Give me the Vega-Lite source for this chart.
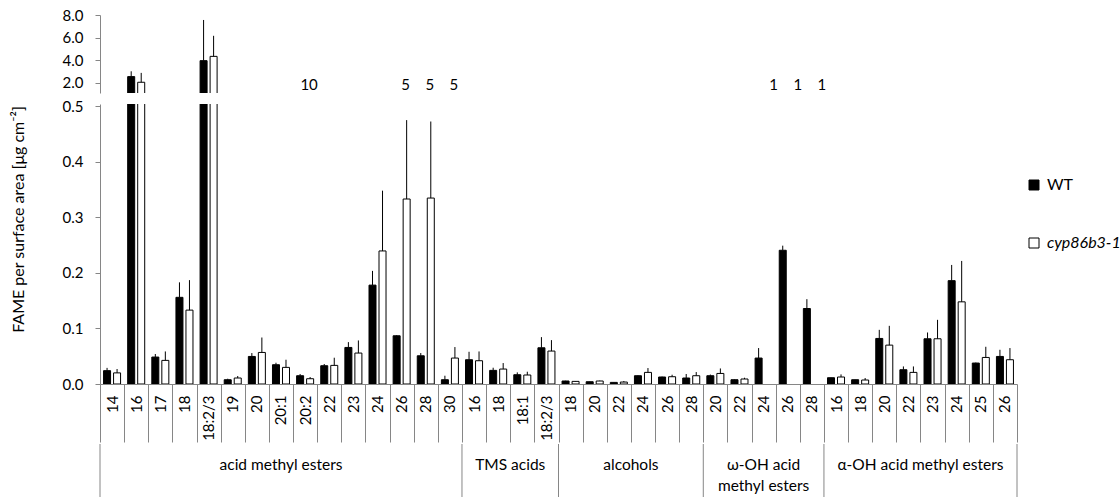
{
  "$schema": "https://vega.github.io/schema/vega-lite/v6.json",
  "padding": {"left": 10, "top": 8, "right": 0, "bottom": 0},
  "config": {
    "font": "Lato",
    "view": {"stroke": null},
    "axis": {"domainColor": "#868686", "tickColor": "#868686", "labelColor": "#000000", "titleColor": "#000000", "grid": false, "labelFont": "Lato", "titleFont": "Lato", "titleFontWeight": "normal"}
  },
  "datasets": {
    "bars": [
      {"cat": "A|14", "series": "WT", "value": 0.024, "upper": 0.029},
      {"cat": "A|14", "series": "cyp86b3-1", "value": 0.020, "upper": 0.027},
      {"cat": "A|16", "series": "WT", "value": 2.55, "upper": 3.02},
      {"cat": "A|16", "series": "cyp86b3-1", "value": 2.05, "upper": 2.88},
      {"cat": "A|17", "series": "WT", "value": 0.0485, "upper": 0.054},
      {"cat": "A|17", "series": "cyp86b3-1", "value": 0.0425, "upper": 0.0586},
      {"cat": "A|18", "series": "WT", "value": 0.156, "upper": 0.183},
      {"cat": "A|18", "series": "cyp86b3-1", "value": 0.133, "upper": 0.187},
      {"cat": "A|18:2/3", "series": "WT", "value": 3.96, "upper": 7.56},
      {"cat": "A|18:2/3", "series": "cyp86b3-1", "value": 4.34, "upper": 6.16},
      {"cat": "A|19", "series": "WT", "value": 0.0077, "upper": 0.0095},
      {"cat": "A|19", "series": "cyp86b3-1", "value": 0.0108, "upper": 0.0144},
      {"cat": "A|20", "series": "WT", "value": 0.0496, "upper": 0.0557},
      {"cat": "A|20", "series": "cyp86b3-1", "value": 0.0568, "upper": 0.0837},
      {"cat": "A|20:1", "series": "WT", "value": 0.0347, "upper": 0.0383},
      {"cat": "A|20:1", "series": "cyp86b3-1", "value": 0.0299, "upper": 0.0437},
      {"cat": "A|20:2", "series": "WT", "value": 0.0149, "upper": 0.018},
      {"cat": "A|20:2", "series": "cyp86b3-1", "value": 0.0095, "upper": 0.0126},
      {"cat": "A|22", "series": "WT", "value": 0.0329, "upper": 0.036},
      {"cat": "A|22", "series": "cyp86b3-1", "value": 0.0335, "upper": 0.0473},
      {"cat": "A|23", "series": "WT", "value": 0.0658, "upper": 0.0754},
      {"cat": "A|23", "series": "cyp86b3-1", "value": 0.0557, "upper": 0.0784},
      {"cat": "A|24", "series": "WT", "value": 0.178, "upper": 0.2036},
      {"cat": "A|24", "series": "cyp86b3-1", "value": 0.2395, "upper": 0.348},
      {"cat": "A|26", "series": "WT", "value": 0.0868, "upper": 0.088},
      {"cat": "A|26", "series": "cyp86b3-1", "value": 0.333, "upper": 0.475},
      {"cat": "A|28", "series": "WT", "value": 0.0508, "upper": 0.0557},
      {"cat": "A|28", "series": "cyp86b3-1", "value": 0.3347, "upper": 0.4725},
      {"cat": "A|30", "series": "WT", "value": 0.0077, "upper": 0.0149},
      {"cat": "A|30", "series": "cyp86b3-1", "value": 0.0467, "upper": 0.0665},
      {"cat": "T|16", "series": "WT", "value": 0.0437, "upper": 0.058},
      {"cat": "T|16", "series": "cyp86b3-1", "value": 0.0419, "upper": 0.0586},
      {"cat": "T|18", "series": "WT", "value": 0.0245, "upper": 0.0293},
      {"cat": "T|18", "series": "cyp86b3-1", "value": 0.0269, "upper": 0.0377},
      {"cat": "T|18:1", "series": "WT", "value": 0.0167, "upper": 0.0209},
      {"cat": "T|18:1", "series": "cyp86b3-1", "value": 0.0162, "upper": 0.0221},
      {"cat": "T|18:2/3", "series": "WT", "value": 0.0652, "upper": 0.0844},
      {"cat": "T|18:2/3", "series": "cyp86b3-1", "value": 0.0593, "upper": 0.079},
      {"cat": "L|18", "series": "WT", "value": 0.0054, "upper": 0.0058},
      {"cat": "L|18", "series": "cyp86b3-1", "value": 0.0047, "upper": 0.0052},
      {"cat": "L|20", "series": "WT", "value": 0.0041, "upper": 0.0045},
      {"cat": "L|20", "series": "cyp86b3-1", "value": 0.0054, "upper": 0.006},
      {"cat": "L|22", "series": "WT", "value": 0.0029, "upper": 0.0032},
      {"cat": "L|22", "series": "cyp86b3-1", "value": 0.0035, "upper": 0.0054},
      {"cat": "L|24", "series": "WT", "value": 0.0149, "upper": 0.0158},
      {"cat": "L|24", "series": "cyp86b3-1", "value": 0.0209, "upper": 0.0287},
      {"cat": "L|26", "series": "WT", "value": 0.0126, "upper": 0.0133},
      {"cat": "L|26", "series": "cyp86b3-1", "value": 0.0131, "upper": 0.0167},
      {"cat": "L|28", "series": "WT", "value": 0.0108, "upper": 0.018},
      {"cat": "L|28", "series": "cyp86b3-1", "value": 0.0149, "upper": 0.0215},
      {"cat": "W|20", "series": "WT", "value": 0.0149, "upper": 0.017},
      {"cat": "W|20", "series": "cyp86b3-1", "value": 0.019, "upper": 0.028},
      {"cat": "W|22", "series": "WT", "value": 0.0077, "upper": 0.0085},
      {"cat": "W|22", "series": "cyp86b3-1", "value": 0.009, "upper": 0.0113},
      {"cat": "W|24", "series": "WT", "value": 0.0467, "upper": 0.0647},
      {"cat": "W|26", "series": "WT", "value": 0.2407, "upper": 0.249},
      {"cat": "W|28", "series": "WT", "value": 0.1359, "upper": 0.1527},
      {"cat": "H|16", "series": "WT", "value": 0.0113, "upper": 0.0118},
      {"cat": "H|16", "series": "cyp86b3-1", "value": 0.0126, "upper": 0.0173},
      {"cat": "H|18", "series": "WT", "value": 0.0077, "upper": 0.008},
      {"cat": "H|18", "series": "cyp86b3-1", "value": 0.0072, "upper": 0.0108},
      {"cat": "H|20", "series": "WT", "value": 0.082, "upper": 0.0975},
      {"cat": "H|20", "series": "cyp86b3-1", "value": 0.07, "upper": 0.1047},
      {"cat": "H|22", "series": "WT", "value": 0.0257, "upper": 0.0316},
      {"cat": "H|22", "series": "cyp86b3-1", "value": 0.0209, "upper": 0.0316},
      {"cat": "H|23", "series": "WT", "value": 0.0814, "upper": 0.0927},
      {"cat": "H|23", "series": "cyp86b3-1", "value": 0.0814, "upper": 0.1155},
      {"cat": "H|24", "series": "WT", "value": 0.186, "upper": 0.2143},
      {"cat": "H|24", "series": "cyp86b3-1", "value": 0.1479, "upper": 0.2215},
      {"cat": "H|25", "series": "WT", "value": 0.0377, "upper": 0.0385},
      {"cat": "H|25", "series": "cyp86b3-1", "value": 0.0478, "upper": 0.067},
      {"cat": "H|26", "series": "WT", "value": 0.0496, "upper": 0.0616},
      {"cat": "H|26", "series": "cyp86b3-1", "value": 0.0437, "upper": 0.0647}
    ],
    "notes": [
      {"cat": "A|20:2", "label": "10"},
      {"cat": "A|26", "label": "5"},
      {"cat": "A|28", "label": "5"},
      {"cat": "A|30", "label": "5"},
      {"cat": "W|24", "label": "1"},
      {"cat": "W|26", "label": "1"},
      {"cat": "W|28", "label": "1"}
    ],
    "groups": [
      {"group": "acid methyl esters", "start": 0, "end": 15},
      {"group": "TMS acids", "start": 15, "end": 19},
      {"group": "alcohols", "start": 19, "end": 25},
      {"group": "ω-OH acid\nmethyl esters", "start": 25, "end": 30},
      {"group": "α-OH acid methyl esters", "start": 30, "end": 38}
    ],
    "bounds": [{"pos": 0}, {"pos": 15}, {"pos": 19}, {"pos": 25}, {"pos": 30}, {"pos": 38}]
  },
  "spacing": 6,
  "resolve": {"scale": {"x": "independent", "y": "independent"}},
  "vconcat": [
    {
      "width": 917,
      "height": 78,
      "data": {"name": "bars"},
      "encoding": {
        "x": {"field": "cat", "type": "nominal", "axis": null,
              "scale": {"domain": ["A|14","A|16","A|17","A|18","A|18:2/3","A|19","A|20","A|20:1","A|20:2","A|22","A|23","A|24","A|26","A|28","A|30","T|16","T|18","T|18:1","T|18:2/3","L|18","L|20","L|22","L|24","L|26","L|28","W|20","W|22","W|24","W|26","W|28","H|16","H|18","H|20","H|22","H|23","H|24","H|25","H|26"], "paddingInner": 0, "paddingOuter": 0}}
      },
      "layer": [
        {
          "mark": {"type": "bar", "clip": true, "stroke": "black", "strokeWidth": 1},
          "encoding": {
            "xOffset": {"field": "series", "type": "nominal", "scale": {"domain": ["WT", "cyp86b3-1"], "paddingInner": 0.3, "paddingOuter": 0.355}},
            "y": {"field": "value", "type": "quantitative",
                  "scale": {"domain": [1.1, 8], "nice": false, "zero": false},
                  "axis": {"values": [2, 4, 6, 8], "format": ".1f", "tickSize": 5, "labelPadding": 12, "labelFontSize": 15, "labelOverlap": false, "labelBound": false, "title": null}},
            "fill": {"field": "series", "type": "nominal", "scale": {"domain": ["WT", "cyp86b3-1"], "range": ["black", "white"]},
                     "legend": {"title": null, "orient": "none", "legendX": 926, "legendY": 162, "symbolType": "square", "symbolSize": 100, "symbolStrokeColor": "black", "symbolStrokeWidth": 1, "labelFontSize": 16, "labelFont": "Lato", "labelColor": "#000000", "rowPadding": 42, "labelOffset": 5,
                                "encode": {"labels": {"update": {"fontStyle": {"signal": "datum.label === 'cyp86b3-1' ? 'italic' : 'normal'"}}}}}}
          }
        },
        {
          "mark": {"type": "rule", "clip": true, "color": "black", "strokeWidth": 1},
          "encoding": {
            "xOffset": {"field": "series", "type": "nominal"},
            "y": {"field": "value", "type": "quantitative",
                  "axis": {"values": [2, 4, 6, 8], "format": ".1f", "tickSize": 5, "labelPadding": 12, "labelFontSize": 15, "labelOverlap": false, "labelBound": false, "title": null}},
            "y2": {"field": "upper"}
          }
        },
        {
          "data": {"name": "notes"},
          "transform": [{"filter": "datum.cat[0] === 'A'"}],
          "mark": {"type": "text", "fontSize": 15, "dx": 4, "dy": 2, "color": "black"},
          "encoding": {"y": {"datum": 2, "type": "quantitative",
                             "axis": {"values": [2, 4, 6, 8], "format": ".1f", "tickSize": 5, "labelPadding": 12, "labelFontSize": 15, "labelOverlap": false, "labelBound": false, "title": null}},
                       "text": {"field": "label"}}
        },
        {
          "data": {"name": "notes"},
          "transform": [{"filter": "datum.cat[0] === 'W'"}],
          "mark": {"type": "text", "fontSize": 15, "dx": 10, "dy": 2, "color": "black"},
          "encoding": {"y": {"datum": 2, "type": "quantitative",
                             "axis": {"values": [2, 4, 6, 8], "format": ".1f", "tickSize": 5, "labelPadding": 12, "labelFontSize": 15, "labelOverlap": false, "labelBound": false, "title": null}},
                       "text": {"field": "label"}}
        }
      ]
    },
    {
      "spacing": 0,
      "resolve": {"scale": {"x": "independent", "y": "independent"}},
      "vconcat": [
        {
          "width": 917,
          "height": 280,
          "data": {"name": "bars"},
          "encoding": {
            "x": {"field": "cat", "type": "nominal",
                  "scale": {"domain": ["A|14","A|16","A|17","A|18","A|18:2/3","A|19","A|20","A|20:1","A|20:2","A|22","A|23","A|24","A|26","A|28","A|30","T|16","T|18","T|18:1","T|18:2/3","L|18","L|20","L|22","L|24","L|26","L|28","W|20","W|22","W|24","W|26","W|28","H|16","H|18","H|20","H|22","H|23","H|24","H|25","H|26"], "paddingInner": 0, "paddingOuter": 0},
                  "axis": {"title": null, "labelExpr": "split(datum.label, '|')[1]", "labelAngle": -90, "labelAlign": "right", "labelBaseline": "middle", "tickBand": "extent", "tickSize": 58, "labelPadding": -47, "labelFontSize": 15, "labelOverlap": false, "labelBound": false}}
          },
          "layer": [
            {
              "mark": {"type": "bar", "clip": true, "stroke": "black", "strokeWidth": 1},
              "encoding": {
                "xOffset": {"field": "series", "type": "nominal", "scale": {"domain": ["WT", "cyp86b3-1"], "paddingInner": 0.3, "paddingOuter": 0.355}},
                "y": {"field": "value", "type": "quantitative",
                      "scale": {"domain": [0, 0.504], "nice": false},
                      "axis": {"values": [0, 0.1, 0.2, 0.3, 0.4, 0.5], "format": ".1f", "tickSize": 5, "labelPadding": 12, "labelFontSize": 15,
                               "title": "FAME per surface area [μg  cm⁻²]", "titleFontSize": 16, "titleX": -82, "titleY": 115, "titleAngle": 270, "titleAlign": "center", "titleBaseline": "middle"}},
                "fill": {"field": "series", "type": "nominal", "scale": {"domain": ["WT", "cyp86b3-1"], "range": ["black", "white"]},
                         "legend": {"title": null, "orient": "none", "legendX": 926, "legendY": 162, "symbolType": "square", "symbolSize": 100, "symbolStrokeColor": "black", "symbolStrokeWidth": 1, "labelFontSize": 16, "labelFont": "Lato", "labelColor": "#000000", "rowPadding": 42, "labelOffset": 5,
                                    "encode": {"labels": {"update": {"fontStyle": {"signal": "datum.label === 'cyp86b3-1' ? 'italic' : 'normal'"}}}}}}
              }
            },
            {
              "mark": {"type": "rule", "clip": true, "color": "black", "strokeWidth": 1},
              "encoding": {
                "xOffset": {"field": "series", "type": "nominal"},
                "y": {"field": "value", "type": "quantitative"},
                "y2": {"field": "upper"}
              }
            }
          ]
        },
        {
          "width": 917,
          "height": 55,
          "layer": [
            {
              "data": {"name": "bounds"},
              "mark": {"type": "rule", "color": "#868686", "strokeWidth": 1},
              "encoding": {"x": {"field": "pos", "type": "quantitative", "scale": {"domain": [0, 38], "nice": false, "zero": false}, "axis": null}}
            },
            {
              "data": {"name": "groups"},
              "transform": [{"calculate": "(datum.start + datum.end) / 2", "as": "mid"}],
              "mark": {"type": "text", "fontSize": 15.5, "baseline": "top", "dy": -14, "lineBreak": "\n", "lineHeight": 21, "color": "black"},
              "encoding": {"x": {"field": "mid", "type": "quantitative"}, "text": {"field": "group"}}
            }
          ]
        }
      ]
    }
  ]
}
